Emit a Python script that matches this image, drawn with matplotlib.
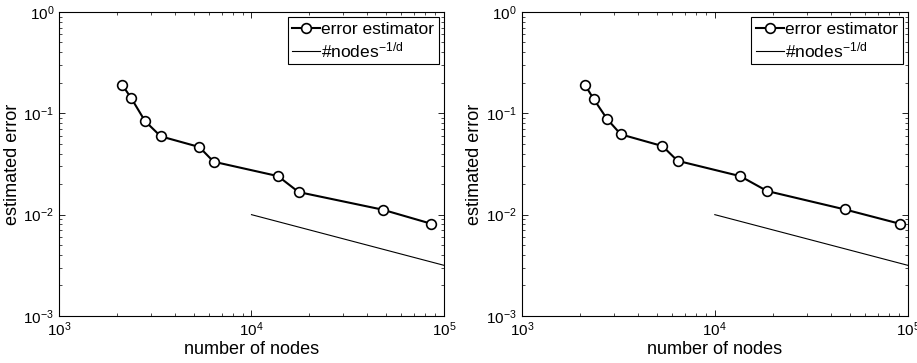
import numpy as np
import matplotlib
matplotlib.use("Agg")
from matplotlib import pyplot as plt
from matplotlib.ticker import LogLocator, NullFormatter

plt.rcParams['font.family'] = ['Liberation Sans', 'DejaVu Sans']
plt.rcParams['mathtext.fontset'] = 'custom'
plt.rcParams['mathtext.rm'] = 'Liberation Sans'
plt.rcParams['mathtext.it'] = 'Liberation Sans'

# --- data ---
nodes_left = [2125, 2366, 2798, 3375, 5357, 6357, 13730, 17580, 47990, 85900]
err_left = [0.192, 0.1426, 0.0839, 0.0593, 0.0465, 0.0333, 0.0240, 0.0167, 0.0112, 0.00813]

nodes_right = [2120, 2360, 2767, 3258, 5357, 6410, 13530, 18670, 46990, 90900]
err_right = [0.192, 0.138, 0.0879, 0.0620, 0.0475, 0.0340, 0.0240, 0.0171, 0.01128, 0.00813]

ref_nodes = [1e4, 1e5]
d = 2

fig = plt.figure(figsize=(9.17, 3.63), dpi=100)
positions = [[0.0643, 0.1295, 0.4199, 0.8375], [0.569, 0.1295, 0.421, 0.8375]]

for pos, xs, ys in zip(positions, [nodes_left, nodes_right], [err_left, err_right]):
    ax = fig.add_axes(pos)
    ref = [n ** (-1.0 / d) for n in ref_nodes]
    ax.loglog(xs, ys, '-o', color='black', lw=1.5, ms=7,
              mfc='white', mec='black', mew=1.2, label='error estimator')
    ax.loglog(ref_nodes, ref, '-', color='black', lw=0.8, label='#nodes$^{-1/d}$')
    ax.set_xlim(1e3, 1e5)
    ax.set_ylim(1e-3, 1e0)
    ax.xaxis.set_major_locator(LogLocator(base=10, numticks=10))
    ax.yaxis.set_major_locator(LogLocator(base=10, numticks=10))
    ax.xaxis.set_minor_locator(LogLocator(base=10, subs=np.arange(2, 10), numticks=20))
    ax.yaxis.set_minor_locator(LogLocator(base=10, subs=np.arange(2, 10), numticks=20))
    ax.xaxis.set_minor_formatter(NullFormatter())
    ax.yaxis.set_minor_formatter(NullFormatter())
    ax.tick_params(which='both', direction='in', top=True, right=True, labelsize=11)
    ax.tick_params(which='major', length=4, width=0.6)
    ax.tick_params(which='minor', length=2, width=0.5)
    for s in ax.spines.values():
        s.set_linewidth(0.8)
    ax.set_xlabel('number of nodes', fontsize=13, labelpad=1)
    ax.set_ylabel('estimated error', fontsize=13, labelpad=2)
    leg = ax.legend(loc='upper right', fontsize=12.5, fancybox=False, framealpha=1,
                    edgecolor='black', handlelength=1.6, handletextpad=0.1,
                    borderpad=0.25, labelspacing=0.2, borderaxespad=0.3)
    leg.get_frame().set_linewidth(0.8)

fig.savefig('out.png', dpi=100)
